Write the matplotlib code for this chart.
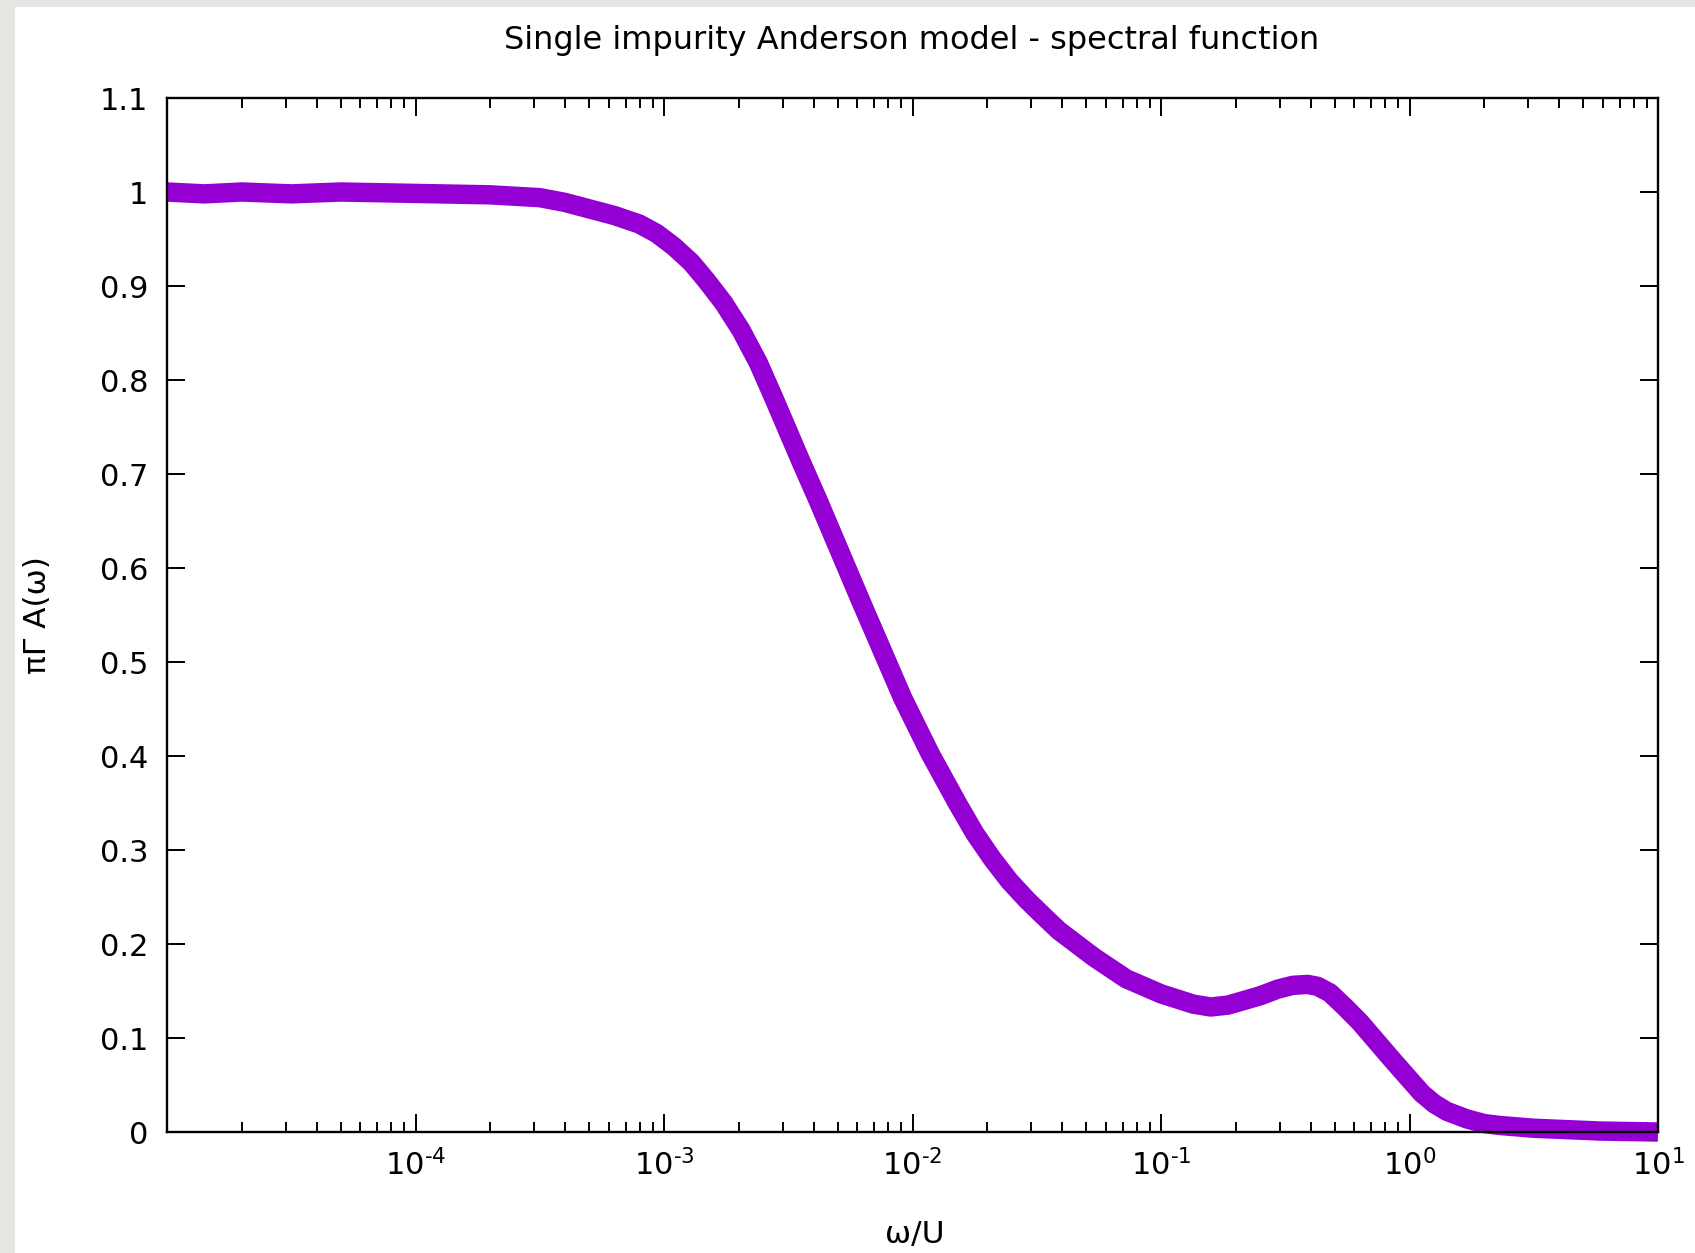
import numpy as np
import matplotlib
matplotlib.use("Agg")
import matplotlib.pyplot as plt
from matplotlib.ticker import FixedLocator, FuncFormatter
from matplotlib.patches import Rectangle

# ---- data ----
# frequency given as log10(omega/U)
log_omega = [-5.00, -4.85, -4.70, -4.50, -4.30, -4.10, -3.90, -3.70, -3.50,
             -3.40, -3.30, -3.20, -3.10, -3.03, -2.96, -2.89, -2.83, -2.76,
             -2.69, -2.62, -2.56, -2.45, -2.38, -2.21, -2.04, -1.93, -1.82,
             -1.75, -1.68, -1.61, -1.54, -1.47, -1.41, -1.27, -1.14, -1.00,
             -0.87, -0.80, -0.73, -0.60, -0.53, -0.47, -0.41, -0.37, -0.32,
             -0.26, -0.20, -0.07, 0.00, 0.05, 0.10, 0.15, 0.23, 0.30, 0.36,
             0.50, 0.77, 1.00]
spectral = [1.000, 0.998, 1.000, 0.998, 1.000, 0.999, 0.998, 0.997, 0.994,
            0.989, 0.982, 0.975, 0.966, 0.956, 0.942, 0.925, 0.906, 0.882,
            0.853, 0.818, 0.782, 0.714, 0.672, 0.566, 0.462, 0.403, 0.350,
            0.318, 0.291, 0.267, 0.247, 0.229, 0.214, 0.186, 0.163, 0.147,
            0.136, 0.133, 0.135, 0.145, 0.152, 0.156, 0.157, 0.155, 0.148,
            0.133, 0.117, 0.077, 0.056, 0.041, 0.030, 0.022, 0.014, 0.009, 0.007,
            0.004, 0.001, 0.000]
x_major_exp = [-4, -3, -2, -1, 0, 1]
y_major = [0.0, 0.1, 0.2, 0.3, 0.4, 0.5, 0.6, 0.7, 0.8, 0.9, 1.0, 1.1]
title = "Single impurity Anderson model - spectral function"
xlabel = "ω/U"
ylabel = "πΓ A(ω)"

omega = [10.0 ** v for v in log_omega]

plt.rcParams['font.family'] = ['DejaVu Sans']
plt.rcParams['mathtext.fontset'] = 'dejavusans'
plt.rcParams['mathtext.default'] = 'regular'
plt.rcParams['axes.unicode_minus'] = False

W, H = 1695, 1253
fig = plt.figure(figsize=(W / 100, H / 100), dpi=100)
fig.patch.set_facecolor('#e6e6e2')
fig.patches.append(Rectangle((15 / W, 0), 1 - 15 / W, 1 - 7 / H,
                             transform=fig.transFigure, facecolor='white',
                             edgecolor='none', zorder=-5))

ax = fig.add_axes([167 / W, 1 - 1132 / H, (1658 - 167) / W, (1132 - 98) / H])
ax.set_facecolor('white')
ax.plot(omega, spectral, color='#9400D3', lw=14, solid_capstyle='butt',
        solid_joinstyle='round', clip_on=False, zorder=2)

ax.set_xscale('log')
ax.set_xlim(1e-5, 10)
ax.set_ylim(0, 1.1)

ax.xaxis.set_major_locator(FixedLocator([10.0 ** e for e in x_major_exp]))
minors = [m * 10.0 ** e for e in range(-5, 1) for m in range(2, 10)]
ax.xaxis.set_minor_locator(FixedLocator(minors))


def xfmt(v, pos):
    e = int(round(np.log10(v)))
    if e < 0:
        return r'$10^{\text{-%d}}$' % (-e)
    return r'$10^{%d}$' % e


ax.xaxis.set_major_formatter(FuncFormatter(xfmt))
ax.xaxis.set_minor_formatter(FuncFormatter(lambda v, p: ''))
ax.yaxis.set_major_locator(FixedLocator(y_major))
ax.yaxis.set_major_formatter(FuncFormatter(lambda v, p: f'{round(v, 2):g}'))

for s in ax.spines.values():
    s.set_linewidth(1.7)
    s.set_color('black')
ax.tick_params(which='both', direction='in', top=True, right=True,
               color='black', width=1.4)
ax.tick_params(which='major', length=13, labelsize=22, pad=13.5)
ax.tick_params(which='minor', length=7)
ax.tick_params(axis='x', which='major', pad=12)
ax.tick_params(axis='y', which='minor', left=False, right=False)

fig.text(912 / W, 1 - 40 / H, title, ha='center', va='center', fontsize=23)
fig.text(915 / W, 1 - 1234 / H, xlabel, ha='center', va='center', fontsize=22.5)
fig.text(37 / W, 1 - 615 / H, ylabel, ha='center', va='center', fontsize=22.5,
         rotation=90)

fig.savefig('out.png', dpi=100, facecolor=fig.get_facecolor())
